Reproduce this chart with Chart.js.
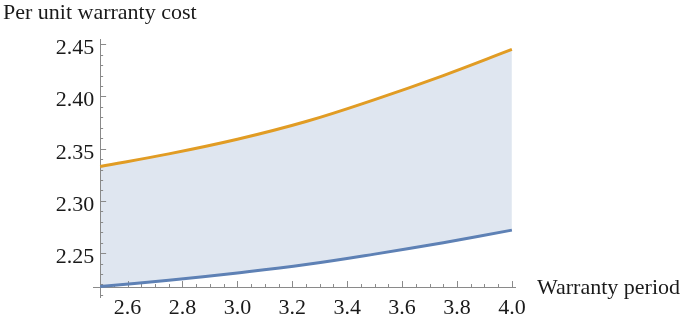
<!DOCTYPE html>
<html>
<head>
<meta charset="utf-8">
<script src="https://cdn.jsdelivr.net/npm/chart.js@4/dist/chart.umd.min.js"></script>
<style>
  body { margin: 0; background: #fff; }
  #wrap { width: 685px; height: 317px; }
</style>
</head>
<body>
<div id="wrap"><canvas id="costChart" width="685" height="317"></canvas></div>
<script>
// warranty period (x) and the two bounds of per unit cost
const periods = [2.5, 2.75, 3.0, 3.25, 3.5, 3.75, 4.0];
const lowerCost = [2.218, 2.224, 2.231, 2.239, 2.249, 2.260, 2.272];
const upperCost = [2.333, 2.345, 2.359, 2.376, 2.397, 2.420, 2.445];

const xTicks = [2.6, 2.8, 3.0, 3.2, 3.4, 3.6, 3.8, 4.0];
const yTicks = [2.25, 2.30, 2.35, 2.40, 2.45];
const xTitle = "Warranty period";
const yTitle = "Per unit warranty cost";

const font = '22px "Liberation Serif", "Times New Roman", serif';
const axisColor = "#8a8a8a";

// Mathematica-like axes: crossing lines, ticks pointing inward, minor ticks
const axesPlugin = {
  id: "mmaAxes",
  beforeDatasetsDraw(chart) {
    const { ctx, chartArea } = chart;
    const xs = chart.scales.x, ys = chart.scales.y;
    const ox = xs.getPixelForValue(2.5);
    const oy = ys.getPixelForValue(2.2175);
    ctx.save();
    ctx.strokeStyle = axisColor;
    ctx.lineWidth = 1;
    ctx.beginPath();
    ctx.moveTo(chartArea.left, Math.round(oy) + 0.5);
    ctx.lineTo(chartArea.right, Math.round(oy) + 0.5);
    ctx.moveTo(Math.round(ox) + 0.5, chartArea.top);
    ctx.lineTo(Math.round(ox) + 0.5, chartArea.bottom);
    // x ticks every 0.05, major every 0.2
    for (let i = 51; i <= 80; i++) {
      const v = i * 0.05;
      const px = Math.round(xs.getPixelForValue(v)) + 0.5;
      const major = i % 4 === 0;
      ctx.moveTo(px, oy);
      ctx.lineTo(px, oy - (major ? 6 : 3));
    }
    // y ticks every 0.01, major every 0.05
    for (let i = 221; i <= 245; i++) {
      const v = i * 0.01;
      const py = Math.round(ys.getPixelForValue(v)) + 0.5;
      const major = i % 5 === 0;
      ctx.moveTo(ox, py);
      ctx.lineTo(ox + (major ? 6 : 3), py);
    }
    ctx.stroke();

    ctx.fillStyle = "#1a1a1a";
    ctx.font = font;
    ctx.textBaseline = "alphabetic";
    ctx.textAlign = "center";
    xTicks.forEach((v) => {
      ctx.fillText(v.toFixed(1), xs.getPixelForValue(v), oy + 27);
    });
    ctx.textAlign = "right";
    yTicks.forEach((v) => {
      ctx.fillText(v.toFixed(2), ox - 6, ys.getPixelForValue(v) + 10);
    });
    ctx.textAlign = "left";
    ctx.fillText(xTitle, chartArea.right + 21, oy + 7);
    ctx.fillText(yTitle, 3, 19);
    ctx.restore();
  },
};

new Chart(document.getElementById("costChart").getContext("2d"), {
  type: "line",
  data: {
    datasets: [
      {
        data: periods.map((p, i) => ({ x: p, y: lowerCost[i] })),
        borderColor: "#5e81b5",
        borderWidth: 3,
        pointRadius: 0,
        tension: 0.4,
        fill: false,
      },
      {
        data: periods.map((p, i) => ({ x: p, y: upperCost[i] })),
        borderColor: "#e19c24",
        borderWidth: 3,
        pointRadius: 0,
        tension: 0.4,
        fill: "-1",
        backgroundColor: "rgba(94, 129, 181, 0.2)",
      },
    ],
  },
  options: {
    responsive: false,
    animation: false,
    layout: { padding: { left: 93, right: 169, top: 39, bottom: 19 } },
    plugins: {
      legend: { display: false },
      tooltip: { enabled: false },
      filler: { drawTime: "beforeDatasetsDraw" },
    },
    scales: {
      x: { type: "linear", min: 2.474, max: 4.015, display: false },
      y: { type: "linear", min: 2.207, max: 2.455, display: false },
    },
  },
  plugins: [axesPlugin],
});
</script>
</body>
</html>
